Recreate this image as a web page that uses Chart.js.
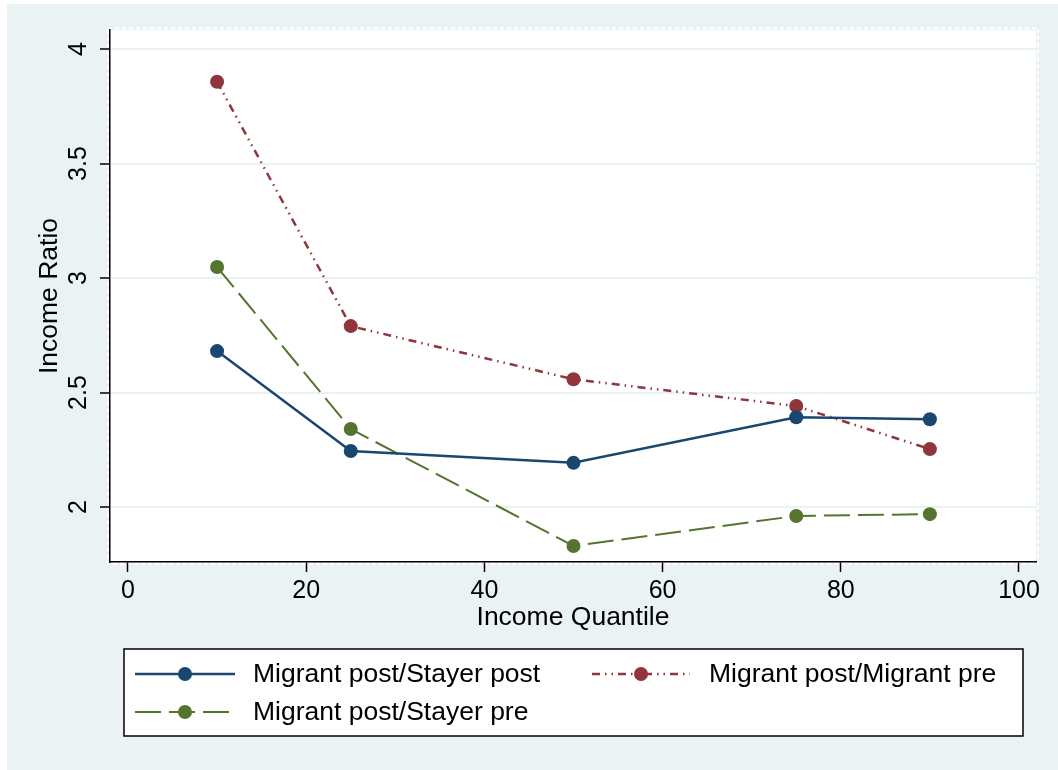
<!DOCTYPE html>
<html>
<head>
<meta charset="utf-8">
<title>Income Ratio by Income Quantile</title>
<script src="https://cdn.jsdelivr.net/npm/chart.js@4.4.1/dist/chart.umd.min.js"></script>
<style>
  html, body { margin: 0; padding: 0; background: #ffffff; }
  #wrap { width: 1058px; height: 770px; }
</style>
</head>
<body>
<div id="wrap"><canvas id="chart" width="1058" height="770"></canvas></div>
<script>
// Income quantiles on the x axis
const quantiles = [10, 25, 50, 75, 90];

// Income ratios for each comparison
const migPostStayPost = [2.681, 2.245, 2.193, 2.392, 2.383];
const migPostMigPre   = [3.857, 2.790, 2.558, 2.441, 2.253];
const migPostStayPre  = [3.048, 2.341, 1.830, 1.961, 1.969];

const seriesNames = ['Migrant post/Stayer post', 'Migrant post/Migrant pre', 'Migrant post/Stayer pre'];

// Tick marks shown on each axis
const xTicks = [0, 20, 40, 60, 80, 100];
const yTicks = [2, 2.5, 3, 3.5, 4];

const FONT = "'Liberation Sans', Arial, Helvetica, sans-serif";
const BG = '#EAF2F3';
const NAVY = '#1A476F', MAROON = '#90353B', FOREST = '#55752F';

Chart.defaults.color = '#000';
Chart.defaults.font.family = FONT;

const toPoints = ys => quantiles.map((q, i) => ({ x: q, y: ys[i] }));

const lineStyle = (label, data, color, dash, width) => ({
  label,
  data: toPoints(data),
  borderColor: color,
  backgroundColor: color,
  borderWidth: width,
  borderDash: dash,
  pointRadius: 7,
  pointHoverRadius: 7,
  pointBackgroundColor: color,
  pointBorderColor: color,
  pointBorderWidth: 0,
  tension: 0,
  fill: false
});

// Outer panel and the white plot region behind the axes
const backdrop = {
  id: 'backdrop',
  beforeDraw(chart) {
    const { ctx, chartArea: a, width, height } = chart;
    ctx.save();
    ctx.fillStyle = '#ffffff';
    ctx.fillRect(0, 0, width, height);
    ctx.fillStyle = BG;
    ctx.fillRect(7, 4, width - 7, height - 4);
    ctx.fillStyle = '#ffffff';
    ctx.fillRect(a.left, a.top, a.right - a.left, a.bottom - a.top);
    ctx.strokeStyle = '#ffffff';
    ctx.lineWidth = 2;
    ctx.setLineDash([4, 3]);
    ctx.strokeRect(a.left - 2, a.top - 2, a.right - a.left + 4, a.bottom - a.top + 4);
    ctx.restore();
  }
};

// Boxed two-column legend below the plot
const boxLegend = {
  id: 'boxLegend',
  afterDraw(chart) {
    const { ctx } = chart;
    const box = { left: 124, top: 649, right: 1023, bottom: 736 };
    const slots = [
      { x0: 135, x1: 235, tx: 253, y: 674 },
      { x0: 592, x1: 690, tx: 709, y: 674 },
      { x0: 135, x1: 235, tx: 253, y: 712 }
    ];
    ctx.save();
    ctx.fillStyle = '#ffffff';
    ctx.fillRect(box.left, box.top, box.right - box.left, box.bottom - box.top);
    ctx.strokeStyle = '#000';
    ctx.lineWidth = 1.5;
    ctx.strokeRect(box.left, box.top, box.right - box.left, box.bottom - box.top);
    chart.data.datasets.forEach((ds, i) => {
      const s = slots[i];
      ctx.strokeStyle = ds.borderColor;
      ctx.lineWidth = ds.borderWidth;
      ctx.setLineDash(ds.borderDash || []);
      ctx.beginPath();
      ctx.moveTo(s.x0, s.y);
      ctx.lineTo(s.x1, s.y);
      ctx.stroke();
      ctx.setLineDash([]);
      ctx.fillStyle = ds.pointBackgroundColor;
      ctx.beginPath();
      ctx.arc((s.x0 + s.x1) / 2, s.y, ds.pointRadius, 0, Math.PI * 2);
      ctx.fill();
      ctx.fillStyle = '#000';
      ctx.font = '26.5px ' + FONT;
      ctx.textAlign = 'left';
      ctx.textBaseline = 'middle';
      ctx.fillText(ds.label, s.tx, s.y + 1);
    });
    ctx.restore();
  }
};

new Chart(document.getElementById('chart'), {
  type: 'line',
  data: {
    datasets: [
      lineStyle(seriesNames[0], migPostStayPost, NAVY, [], 2.5),
      lineStyle(seriesNames[1], migPostMigPre, MAROON, [8, 5, 1.5, 5, 1.5, 5], 2.5),
      lineStyle(seriesNames[2], migPostStayPre, FOREST, [26, 8], 2)
    ]
  },
  options: {
    responsive: false,
    animation: false,
    devicePixelRatio: 1,
    layout: { padding: { left: 0, top: 30, right: 22, bottom: 128 } },
    plugins: { legend: { display: false }, tooltip: { enabled: false } },
    scales: {
      x: {
        type: 'linear',
        min: -2.02,
        max: 101.91,
        afterBuildTicks: s => { s.ticks = xTicks.map(v => ({ value: v })); },
        afterFit: s => { s.height = 80; },
        ticks: { font: { size: 25 }, padding: 4, maxRotation: 0, autoSkip: false },
        grid: { drawOnChartArea: false, drawTicks: true, tickLength: 10, tickColor: '#000', tickWidth: 1.5 },
        border: { display: true, color: '#000', width: 1.5 },
        title: { display: true, text: 'Income Quantile', font: { size: 26.5 }, padding: { top: 0, bottom: 8 } }
      },
      y: {
        type: 'linear',
        min: 1.76,
        max: 4.083,
        afterBuildTicks: s => { s.ticks = yTicks.map(v => ({ value: v })); },
        afterFit: s => { s.width = 110; },
        ticks: {
          font: { size: 25 }, padding: 4, minRotation: 90, maxRotation: 90,
          crossAlign: 'center', autoSkip: false,
          callback: v => String(v)
        },
        grid: { color: BG, lineWidth: 2, drawTicks: true, tickLength: 10, tickColor: '#000', tickWidth: 1.5 },
        border: { display: true, color: '#000', width: 1.5 },
        title: { display: true, text: 'Income Ratio', font: { size: 26.5 }, padding: { top: 34, bottom: 0 } }
      }
    }
  },
  plugins: [backdrop, boxLegend]
});
</script>
</body>
</html>
